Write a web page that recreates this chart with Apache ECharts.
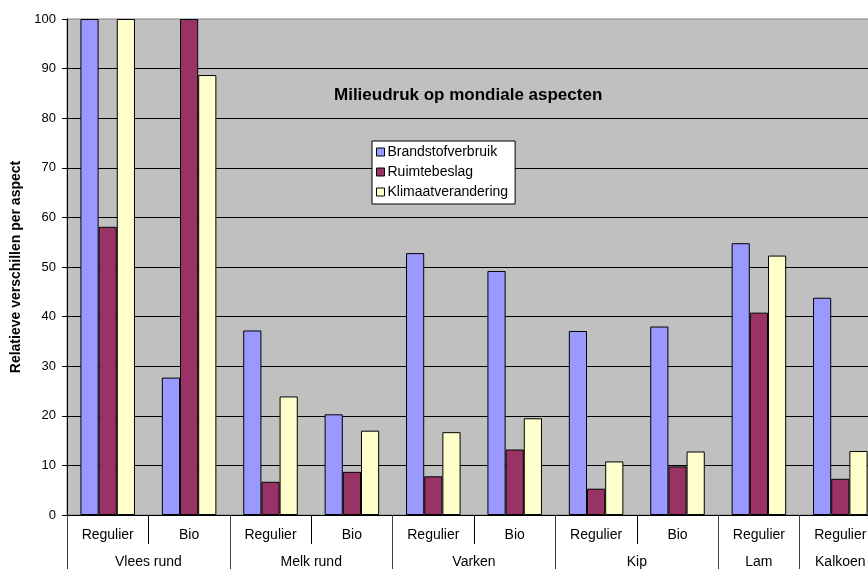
<!DOCTYPE html>
<html>
<head>
<meta charset="utf-8">
<script src="https://cdn.jsdelivr.net/npm/echarts@6/dist/echarts.min.js"></script>
<style>
html,body{margin:0;padding:0;background:#fff;overflow:hidden;}
#c{width:868px;height:569px;}
</style>
</head>
<body>
<div id="c"></div>
<script>
const categories = ['Regulier','Bio','Regulier','Bio','Regulier','Bio','Regulier','Bio','Regulier','Regulier'];
const groups = ['Vlees rund','Melk rund','Varken','Kip','Lam','Kalkoen'];
const groupSpans = [2,2,2,2,1,1];
const brandstof = [100, 27.7, 37.2, 20.3, 52.8, 49.2, 37.1, 38.0, 54.8, 43.8];
const ruimte = [58.1, 100, 6.7, 8.7, 7.8, 13.2, 5.3, 9.8, 40.8, 7.3];
const klimaat = [100, 88.7, 23.9, 17.0, 16.7, 19.5, 10.8, 12.8, 52.3, 12.9];
const seriesNames = ['Brandstofverbruik','Ruimtebeslag','Klimaatverandering'];
const yTicks = [0,10,20,30,40,50,60,70,80,90,100];

const FONT = 'Liberation Sans, Arial, sans-serif';
const colors = ['#9999FF','#993366','#FFFFCC'];

const bounds = [0];
groupSpans.forEach(s => bounds.push(bounds[bounds.length-1] + s));
const centers = groupSpans.map((s,i) => bounds[i] + s/2);

const chart = echarts.init(document.getElementById('c'), null, {renderer:'canvas'});
const mk = (name, data, i) => ({
  name, type:'bar', data, xAxisIndex:0, yAxisIndex:0,
  barGap:'0%', barCategoryGap:'33%',
  itemStyle:{color:colors[i], borderColor:'#000', borderWidth:1},
  emphasis:{disabled:true}, animation:false
});
chart.setOption({
  animation:false,
  backgroundColor:'#ffffff',
  textStyle:{fontFamily:FONT},
  title:{
    text:'Milieudruk op mondiale aspecten',
    left:329, top:82,
    textStyle:{fontFamily:FONT, fontSize:17, fontWeight:'bold', color:'#000'}
  },
  legend:{
    orient:'vertical', left:372, top:141,
    backgroundColor:'#ffffff', borderColor:'#000', borderWidth:1,
    padding:[4,7,5,4], itemGap:6, itemWidth:8, itemHeight:8,
    icon:'rect',
    itemStyle:{borderColor:'#000', borderWidth:1},
    textStyle:{fontFamily:FONT, fontSize:14, color:'#000', padding:[0,0,0,-2]},
    data:seriesNames
  },
  grid:{
    left:67, top:19, width:814, bottom:54,
    outerBoundsMode:'none',
    show:true, backgroundColor:'#C0C0C0', borderColor:'#808080', borderWidth:1,
    containLabel:false
  },
  xAxis:[{
    type:'category', data:categories, position:'bottom',
    axisLine:{show:true, lineStyle:{color:'#000', width:1}},
    axisTick:{show:true, length:29, lineStyle:{color:'#000'}},
    axisLabel:{fontFamily:FONT, fontSize:14, color:'#000', margin:13, interval:0},
    splitLine:{show:false}
  },{
    type:'value', min:0, max:categories.length, position:'bottom',
    axisLine:{show:false},
    axisTick:{show:true, length:60, customValues:bounds, lineStyle:{color:'#404040'}},
    axisLabel:{show:true, customValues:centers, fontFamily:FONT, fontSize:14, color:'#000', margin:40,
      formatter:(v)=>{ const i = centers.indexOf(v); return i>=0 ? groups[i] : ''; }},
    splitLine:{show:false}
  }],
  yAxis:{
    type:'value', min:0, max:100, interval:10,
    name:'Relatieve verschillen per aspect', nameLocation:'middle', nameGap:44,
    nameTextStyle:{fontFamily:FONT, fontSize:14, fontWeight:'bold', color:'#000'},
    axisLine:{show:true, lineStyle:{color:'#000'}},
    axisTick:{show:true, length:5, lineStyle:{color:'#000'}},
    axisLabel:{fontFamily:FONT, fontSize:13, color:'#000', margin:11,
      formatter:(v)=> yTicks.includes(v) ? String(v) : ''},
    splitLine:{show:true, showMaxLine:false, lineStyle:{color:'#000', width:1, type:'solid'}}
  },
  series:[mk(seriesNames[0], brandstof, 0), mk(seriesNames[1], ruimte, 1), mk(seriesNames[2], klimaat, 2)]
});
</script>
</body>
</html>
